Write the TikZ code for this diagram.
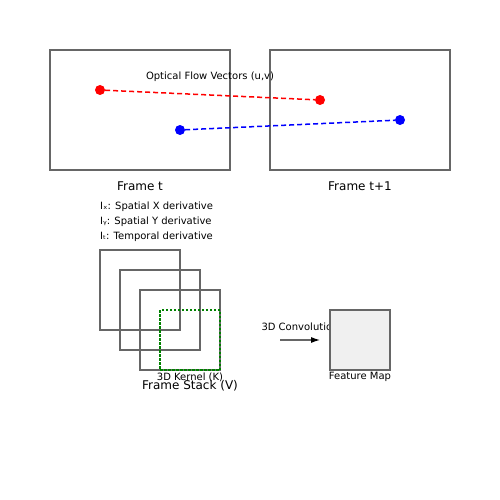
\documentclass[tikz,border=0pt]{standalone}
\usepackage{fontspec}
\setmainfont{DejaVu Sans}
\usetikzlibrary{arrows.meta}
\definecolor{edgegray}{HTML}{666666}
\definecolor{mapfill}{HTML}{F0F0F0}
\definecolor{kernelgreen}{HTML}{008000}
\tikzset{
    framebox/.style={draw=edgegray, line width=1.1pt, inner sep=0pt},
    dot/.style={circle, inner sep=0pt, minimum size=10pt},
    flow/.style={line width=1.5pt, dash pattern=on 5pt off 3pt},
    small/.style={font=\fontsize{10}{12}\selectfont},
    big/.style={font=\fontsize{12}{14}\selectfont}
}
\begin{document}
\begin{tikzpicture}[x=1pt, y=-1pt]
    \useasboundingbox (0,0) rectangle (500,500);

    % Draw the two video frames
    \node[framebox, minimum width=180pt, minimum height=120pt] (framet) at (140,110) {};
    \node[framebox, minimum width=180pt, minimum height=120pt] (framenext) at (360,110) {};
    \node[big] (labt) at (140,186) {Frame t};
    \node[big] (labnext) at (360,186) {Frame t+1};

    % Draw the tracked points and their flow
    \node[small] (flowlab) at (210,77) {Optical Flow Vectors (u,v)};
    \node[dot, fill=red] (red1) at (100,90) {};
    \node[dot, fill=red] (red2) at (320,100) {};
    \node[dot, fill=blue] (blue1) at (180,130) {};
    \node[dot, fill=blue] (blue2) at (400,120) {};
    \draw[flow, red] (red1) -- (red2);
    \draw[flow, blue] (blue1) -- (blue2);

    % Derivative legend
    \node[small, anchor=west, inner sep=0pt] (dx) at (100,207) {Iₓ: Spatial X derivative};
    \node[small, anchor=west, inner sep=0pt] (dy) at (100,222) {Iᵧ: Spatial Y derivative};
    \node[small, anchor=west, inner sep=0pt] (dt) at (100,237) {Iₜ: Temporal derivative};

    % Draw the stack of frames
    \foreach \i in {0,1,2}
        \node[framebox, minimum width=80pt, minimum height=80pt] (stack\i) at (140+20*\i,290+20*\i) {};
    \node[draw=kernelgreen, line width=1.5pt, dash pattern=on 2.5pt off 1.5pt, inner sep=0pt,
          minimum width=60pt, minimum height=60pt] (kernel) at (190,340) {};
    \node[small] (kernlab) at (190,377) {3D Kernel (K)};
    \node[big] (stacklab) at (190,386) {Frame Stack (V)};

    % Convolution step and output
    \node[small] (convlab) at (300,327) {3D Convolution};
    \coordinate (convstart) at (280,340);
    \coordinate (convend) at (320,340);
    \draw[edgegray, line width=1.1pt, -{Latex[black, length=9pt, width=6pt]}] (convstart) -- (convend);
    \node[framebox, fill=mapfill, minimum width=60pt, minimum height=60pt] (featmap) at (360,340) {};
    \node[small] (maplab) at (360,377) {Feature Map};
\end{tikzpicture}
\end{document}
